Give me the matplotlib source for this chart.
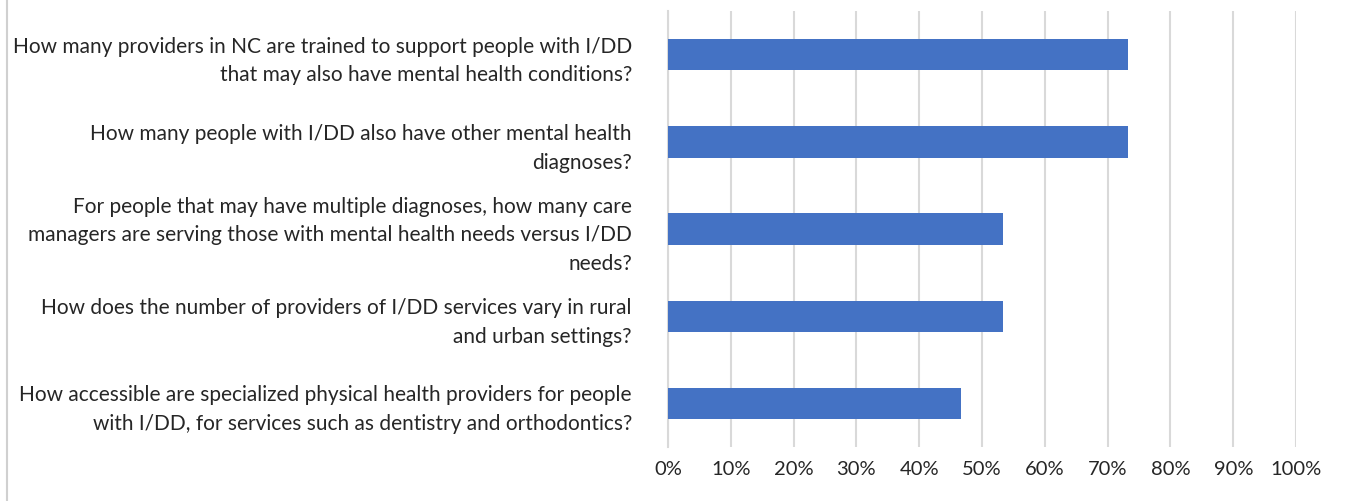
import matplotlib.pyplot as plt
from matplotlib.lines import Line2D
from matplotlib.ticker import PercentFormatter

questions = [
    "How many providers in NC are trained to support people with I/DD\nthat may also have mental health conditions?",
    "How many people with I/DD also have other mental health\ndiagnoses?",
    "For people that may have multiple diagnoses, how many care\nmanagers are serving those with mental health needs versus I/DD\nneeds?",
    "How does the number of providers of I/DD services vary in rural\nand urban settings?",
    "How accessible are specialized physical health providers for people\nwith I/DD, for services such as dentistry and orthodontics?",
]
shares = [73.3, 73.3, 53.3, 53.3, 46.7]
xticks = [0, 10, 20, 30, 40, 50, 60, 70, 80, 90, 100]

plt.rcParams['font.family'] = ['Lato', 'DejaVu Sans']

fig = plt.figure(figsize=(13.46, 5.01), dpi=100)
ax = fig.add_axes([0.4963, 0.1078, 0.4666, 0.8702])

pos = list(range(len(questions)))
ax.barh(pos, shares, height=0.36, color="#4472C4", zorder=3)
ax.set_ylim(len(questions) - 0.5, -0.5)
ax.set_xlim(0, 100)
ax.set_xticks(xticks)
ax.xaxis.set_major_formatter(PercentFormatter(decimals=0))
ax.set_yticks(pos)
ax.set_yticklabels(questions, fontsize=15, color="#262626", linespacing=1.55, ha="right")

ax.grid(axis="x", color="#D9D9D9", linewidth=1.5, zorder=0)
for s in ["top", "right", "bottom"]:
    ax.spines[s].set_visible(False)
ax.spines["left"].set_color("#D9D9D9")
ax.spines["left"].set_linewidth(1.5)
ax.tick_params(axis="y", length=0, pad=26)
ax.tick_params(axis="x", length=0, pad=10, labelsize=14.5, labelcolor="#262626")

# thin frame line on the left edge
fig.add_artist(Line2D([0.0055, 0.0055], [0, 1], color="#D0D0D0", linewidth=1.5))

fig.savefig("out.png", dpi=100)
